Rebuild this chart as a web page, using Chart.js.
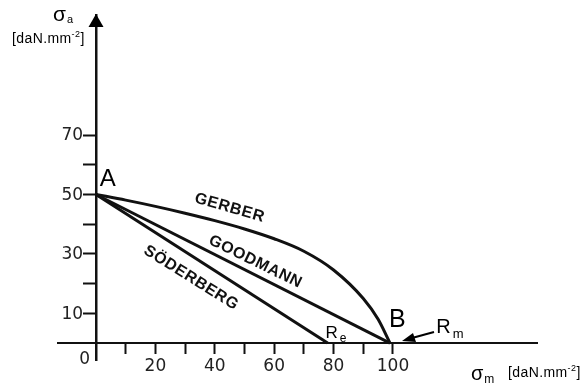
<!DOCTYPE html>
<html>
<head>
<meta charset="utf-8">
<script src="https://cdn.jsdelivr.net/npm/chart.js@4.4.1/dist/chart.umd.min.js"></script>
<style>
  body { margin: 0; background: #fff; }
  canvas { display: block; }
</style>
</head>
<body>
<canvas id="diagrama" width="584" height="387"></canvas>
<script>
const gerberM = [0, 10, 20, 30, 40, 50, 60, 70, 80, 90, 95, 99];
const gerberA = [50, 48.1, 46.0, 43.7, 41.2, 38.4, 35.1, 30.9, 24.6, 15.0, 8.0, 0];
const goodmanM = [0, 99];
const goodmanA = [50, 0];
const soderbergM = [0, 78];
const soderbergA = [50, 0];

const xTicks = [10, 20, 30, 40, 50, 60, 70, 80, 90, 100];
const xLabels = [20, 40, 60, 80, 100];
const yTicks = [10, 20, 30, 40, 50, 60, 70];
const yLabels = [10, 30, 50, 70];

const tinta = '#111';
const fuenteEje = { family: 'DejaVu Sans', size: 17 };

function puntos(xs, ys) {
    return xs.map((x, i) => ({ x: x, y: ys[i] }));
}

function textoSub(ctx, main, sub, x, y, fMain, fSub, dx, dy) {
    ctx.font = fMain;
    ctx.fillText(main, x, y);
    const w = ctx.measureText(main).width;
    ctx.font = fSub;
    ctx.fillText(sub, x + w + dx, y + dy);
}

function unidad(ctx, x, y) {
    ctx.font = '14px "Liberation Sans"';
    ctx.letterSpacing = '0.4px';
    ctx.fillText('[daN.mm', x, y);
    let w = ctx.measureText('[daN.mm').width;
    ctx.font = '9px "Liberation Sans"';
    ctx.fillText('-2', x + w, y - 6);
    w += ctx.measureText('-2').width;
    ctx.font = '14px "Liberation Sans"';
    ctx.fillText(']', x + w, y);
    ctx.letterSpacing = '0px';
}

const anotaciones = {
    id: 'anotaciones',
    afterDraw(chart) {
        const ctx = chart.ctx;
        const sx = chart.scales.x;
        const sy = chart.scales.y;
        const x0 = sx.getPixelForValue(0);
        const y0 = sy.getPixelForValue(0);
        const top = chart.chartArea.top;
        ctx.save();
        ctx.fillStyle = '#000';
        ctx.strokeStyle = '#000';

        // flecha del eje vertical
        ctx.beginPath();
        ctx.moveTo(x0, top - 1);
        ctx.lineTo(x0 - 7.5, top + 12);
        ctx.lineTo(x0 + 7.5, top + 12);
        ctx.closePath();
        ctx.fill();

        // etiquetas del eje vertical (a la izquierda de las marcas)
        ctx.fillStyle = '#222';
        ctx.font = '17px "DejaVu Sans"';
        ctx.textAlign = 'right';
        ctx.textBaseline = 'middle';
        yLabels.forEach(v => {
            ctx.fillText(String(v), x0 - 13, sy.getPixelForValue(v) + 1);
        });

        // cero en el origen
        ctx.textBaseline = 'alphabetic';
        ctx.fillText('0', x0 - 6, y0 + 21);
        ctx.textAlign = 'left';

        ctx.fillStyle = '#000';
        // titulos de ejes
        textoSub(ctx, 'σ', 'a', 53, 21, '21px "Liberation Sans"', '11px "Liberation Sans"', 1, 2);
        unidad(ctx, 12, 43);
        textoSub(ctx, 'σ', 'm', 471, 380, '20px "Liberation Sans"', '12px "Liberation Sans"', 1, 3);
        unidad(ctx, 508, 377);

        // puntos A y B
        ctx.font = '24px "Liberation Sans"';
        ctx.fillText('A', sx.getPixelForValue(1.3), sy.getPixelForValue(52.9));
        ctx.font = '25px "Liberation Sans"';
        ctx.fillText('B', sx.getPixelForValue(98.7), sy.getPixelForValue(5.4));

        // Re y Rm
        textoSub(ctx, 'R', 'e', sx.getPixelForValue(77.3), sy.getPixelForValue(1.7),
            '17px "Liberation Sans"', '12px "Liberation Sans"', 2, 4);
        textoSub(ctx, 'R', 'm', sx.getPixelForValue(114.6), sy.getPixelForValue(3.4),
            '20px "Liberation Sans"', '13px "Liberation Sans"', 2, 5);

        // flecha hacia B
        ctx.lineWidth = 2;
        ctx.beginPath();
        ctx.moveTo(434, 332);
        ctx.lineTo(412, 338);
        ctx.stroke();
        ctx.beginPath();
        ctx.moveTo(402, 341);
        ctx.lineTo(413, 333);
        ctx.lineTo(416, 342);
        ctx.closePath();
        ctx.fill();

        // nombres de las curvas
        const etiquetas = [
            ['GERBER', 45, 45.5, 16],
            ['GOODMANN', 53.7, 27.3, 26],
            ['SÖDERBERG', 32, 21.9, 32]
        ];
        ctx.fillStyle = '#111';
        ctx.font = 'bold 16px "Liberation Sans"';
        ctx.letterSpacing = '0.6px';
        ctx.textAlign = 'center';
        ctx.textBaseline = 'middle';
        etiquetas.forEach(e => {
            ctx.save();
            ctx.translate(sx.getPixelForValue(e[1]), sy.getPixelForValue(e[2]));
            ctx.rotate(e[3] * Math.PI / 180);
            ctx.fillText(e[0], 0, 0);
            ctx.restore();
        });
        ctx.restore();
    }
};

const estiloLinea = {
    borderColor: tinta,
    borderWidth: 3,
    pointRadius: 0,
    fill: false
};

new Chart(document.getElementById('diagrama'), {
    type: 'line',
    data: {
        datasets: [
            Object.assign({ label: 'Gerber', data: puntos(gerberM, gerberA), cubicInterpolationMode: 'monotone' }, estiloLinea),
            Object.assign({ label: 'Goodmann', data: puntos(goodmanM, goodmanA) }, estiloLinea),
            Object.assign({ label: 'Söderberg', data: puntos(soderbergM, soderbergA) }, estiloLinea)
        ]
    },
    options: {
        responsive: false,
        animation: false,
        layout: { padding: { left: 58, right: 47, top: 15, bottom: 27 } },
        plugins: { legend: { display: false }, tooltip: { enabled: false } },
        scales: {
            x: {
                type: 'linear',
                min: -12.8,
                max: 148.5,
                position: { y: 0 },
                afterBuildTicks: s => { s.ticks = xTicks.map(v => ({ value: v })); },
                border: { color: tinta, width: 2 },
                grid: { drawOnChartArea: false, tickLength: 10, tickWidth: 2, color: tinta },
                ticks: {
                    autoSkip: false,
                    maxRotation: 0,
                    padding: 3,
                    color: '#222',
                    font: fuenteEje,
                    callback: v => xLabels.includes(v) ? String(v) : ''
                }
            },
            y: {
                type: 'linear',
                min: -5.7,
                max: 110.4,
                position: { x: 0 },
                afterBuildTicks: s => { s.ticks = yTicks.map(v => ({ value: v })); },
                border: { color: tinta, width: 2.5 },
                grid: { drawOnChartArea: false, tickLength: 12, tickWidth: 2, color: tinta },
                // las etiquetas se dibujan en el plugin
                ticks: { autoSkip: false, callback: () => '' }
            }
        }
    },
    plugins: [anotaciones]
});
</script>
</body>
</html>
